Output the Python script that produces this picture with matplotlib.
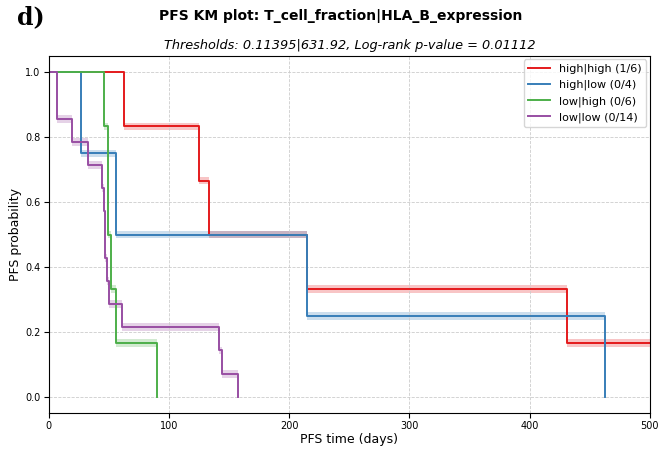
import matplotlib
matplotlib.use("Agg")
import matplotlib.pyplot as plt
import numpy as np

# KM step curves (time in days, survival probability)
groups = ["high|high (1/6)", "high|low (0/4)", "low|high (0/6)", "low|low (0/14)"]
colors = ["#e41a1c", "#377eb8", "#4daf4a", "#984ea3"]

t_hh = [0, 62.5, 125, 133, 215, 431, 520]
s_hh = [1, 5/6, 4/6, 3/6, 2/6, 1/6, 1/6]

t_hl = [0, 27, 56, 215, 463]
s_hl = [1, 0.75, 0.5, 0.25, 0.0]

t_lh = [0, 46, 49.5, 51.5, 55.5, 90]
s_lh = [1, 5/6, 3/6, 2/6, 1/6, 0.0]

t_ll = [0, 7, 19.5, 32.7, 44.4, 45.8, 47, 48.5, 49.6, 60.5, 141.4, 144, 157.5]
s_ll = [1, 12/14, 11/14, 10/14, 9/14, 8/14, 6/14, 5/14, 4/14, 3/14, 2/14, 1/14, 0.0]

times = [t_hh, t_hl, t_lh, t_ll]
survs = [s_hh, s_hl, s_lh, s_ll]

fig, ax = plt.subplots(figsize=(6.61, 4.49), dpi=100)
fig.subplots_adjust(left=0.074, right=0.983, bottom=0.08, top=0.875)

for t, s, c, lab in zip(times, survs, colors, groups):
    t = np.array(t, dtype=float)
    s = np.array(s, dtype=float)
    band = np.where((s > 0) & (s < 1), 0.012, 0.0)
    ax.fill_between(t, s - band, s + band, step="post", color=c, alpha=0.25, lw=0)
    ax.step(t, s, where="post", color=c, lw=1.4, label=lab)

ax.set_xlim(0, 500)
ax.set_ylim(-0.05, 1.05)
ax.set_xticks([0, 100, 200, 300, 400, 500])
ax.set_yticks([0.0, 0.2, 0.4, 0.6, 0.8, 1.0])
ax.tick_params(labelsize=7, pad=2.5)
ax.grid(True, ls="--", color="#cccccc", lw=0.6)
ax.set_xlabel("PFS time (days)", fontsize=9, labelpad=1)
ax.set_ylabel("PFS probability", fontsize=9, labelpad=2)
ax.set_title("Thresholds: 0.11395|631.92, Log-rank p-value = 0.01112",
             fontsize=9.3, style="italic", pad=5)
ax.legend(loc="upper right", fontsize=8, borderaxespad=0.3)

fig.suptitle("PFS KM plot: T_cell_fraction|HLA_B_expression",
             fontsize=10, fontweight="bold", x=0.515, y=0.98)
fig.text(0.025, 0.962, "d)", fontsize=17, fontweight="bold",
         family="DejaVu Serif", va="center")

fig.savefig("out.png", dpi=100)
